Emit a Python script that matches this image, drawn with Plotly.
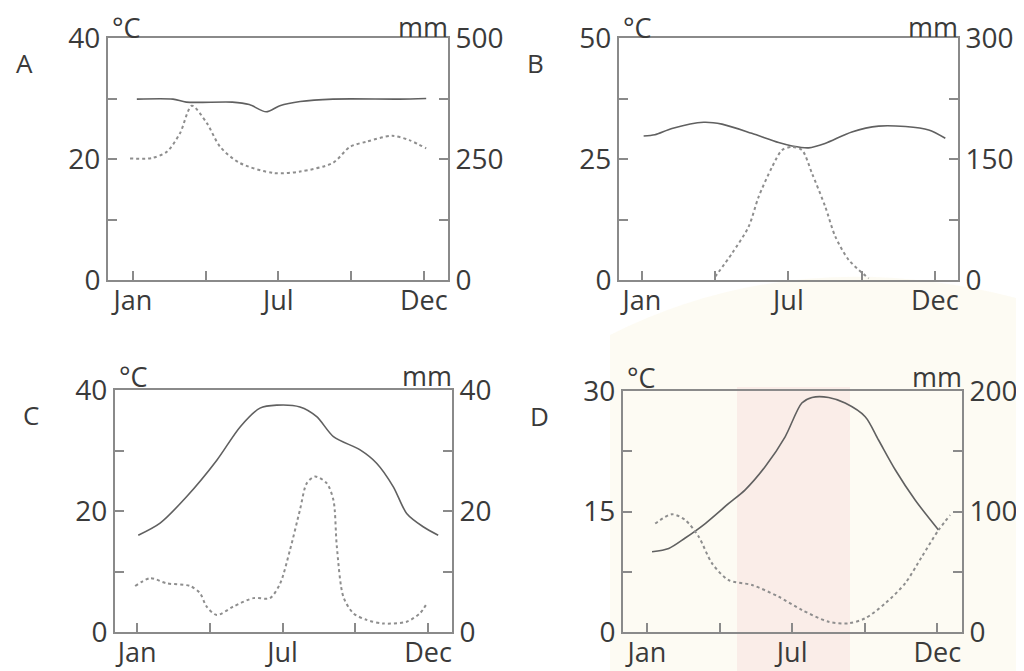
import plotly.graph_objects as go

# month positions: 0 = Jan, 6 = Jul, 12 = Dec (axis ticks every quarter)
tick_vals = [0, 3, 6, 9, 12]
tick_text = ["Jan", "", "Jul", "", "Dec"]

# A
a_temp_x = [0.16, 1.65, 2.2, 4.1, 4.8, 5.5, 6.06, 6.9, 8.25, 11.0, 12.1]
a_temp_y = [29.9, 29.9, 29.4, 29.4, 29.0, 27.8, 28.8, 29.5, 29.9, 29.9, 30.0]
a_rain_x = [-0.12, 0.78, 1.4, 1.94, 2.43, 3.05, 3.6, 4.4, 5.8, 6.9, 8.25, 8.95, 9.65, 10.7, 11.4, 12.1]
a_rain_y = [251, 252, 265, 303, 360, 324, 275, 242, 221, 224, 242, 275, 286, 298, 289, 272]

# B
b_temp_x = [0.07, 0.53, 1.23, 2.53, 3.28, 4.5, 5.6, 6.15, 6.83, 7.5, 8.6, 9.7, 10.8, 11.75, 12.43]
b_temp_y = [29.75, 30.0, 31.3, 32.6, 32.2, 30.3, 28.4, 27.7, 27.3, 28.2, 30.6, 31.8, 31.7, 31.0, 29.3]
b_rain_x = [3.0, 3.69, 4.37, 4.78, 5.33, 5.74, 6.15, 6.56, 6.97, 7.51, 7.92, 8.47, 9.29]
b_rain_y = [4, 33, 66, 103, 140, 161, 165, 161, 132, 91, 54, 25, 2]

# C
c_temp_x = [0.05, 0.95, 2.05, 3.29, 4.25, 5.07, 5.76, 6.72, 7.41, 8.1, 9.2, 9.88, 10.57, 11.12, 11.8, 12.42]
c_temp_y = [16.0, 18.0, 22.4, 28.4, 33.9, 37.0, 37.5, 37.2, 35.6, 32.3, 30.1, 27.9, 24.0, 19.6, 17.4, 16.0]
c_rain_x = [-0.08, 0.54, 1.22, 2.19, 2.6, 2.87, 3.29, 3.97, 4.8, 5.48, 5.9, 6.31, 6.72, 7.0, 7.34,
            7.82, 8.1, 8.24, 8.51, 8.92, 9.47, 10.16, 11.12, 11.67, 11.95]
c_rain_y = [7.6, 8.9, 8.05, 7.6, 6.4, 4.2, 2.8, 4.2, 5.6, 5.6, 8.0, 13.6, 20.2, 24.6, 25.7,
            24.6, 21.8, 14.1, 5.8, 3.1, 2.0, 1.4, 1.7, 3.1, 4.7]

# D
d_temp_x = [0.21, 0.9, 1.58, 2.41, 3.38, 4.06, 4.89, 5.71, 6.4, 6.82, 7.51, 8.19, 9.02, 9.57, 10.26, 11.09, 12.05]
d_temp_y = [10.0, 10.4, 11.7, 13.5, 16.0, 17.7, 20.6, 24.3, 28.5, 29.2, 29.2, 28.5, 26.8, 23.9, 20.2, 16.4, 12.7]
d_rain_x = [0.34, 1.03, 1.58, 2.14, 2.69, 3.38, 4.34, 5.44, 6.4, 7.51, 8.33, 9.02, 9.85, 10.67, 11.36, 12.05, 12.53]
d_rain_y = [90, 97.7, 93, 79, 57, 43, 39, 29.3, 18.3, 8.5, 7.2, 11.4, 23.8, 40.4, 62.5, 84.6, 97]

# page body has an 8px margin; the figure starts at (8, 8) and runs to the window edge
OFF = 8
W, H = 1024 - OFF, 671 - OFF


def px(x):
    return (x - OFF) / W


def py(y):
    return 1 - (y - OFF) / H


panels = [
    # letter, box in page px (left, right, top, bottom), x range, temp max, rain max, data
    ("A", (108, 448, 38, 280), (-1.03, 13.0), 40, 500, a_temp_x, a_temp_y, a_rain_x, a_rain_y),
    ("B", (619, 958, 38, 280), (-0.94, 12.95), 50, 300, b_temp_x, b_temp_y, b_rain_x, b_rain_y),
    ("C", (115, 452, 390, 632), (-0.91, 12.99), 40, 40, c_temp_x, c_temp_y, c_rain_x, c_rain_y),
    ("D", (623, 962, 391, 632), (-0.99, 13.02), 30, 200, d_temp_x, d_temp_y, d_rain_x, d_rain_y),
]

font = dict(family="Open Sans", size=28, color="#3a3a3a")
xfont = dict(family="Open Sans", size=27, color="#3a3a3a")
unit_font = dict(family="Open Sans", size=27, color="#3a3a3a")
letter_font = dict(family="Open Sans", size=26, color="#3a3a3a")
axis_col = "#8a8a8a"
solid_col = "#606060"
dot_col = "#8e8e8e"

fig = go.Figure()
layout = {}
annotations = []

for i, (letter, box, xr, tmax, rmax, tx, ty, rx, ry) in enumerate(panels):
    left, right, top, bottom = box
    xn = "xaxis" if i == 0 else f"xaxis{i + 1}"
    xid = "x" if i == 0 else f"x{i + 1}"
    yl = 2 * i + 1
    yr = 2 * i + 2
    yln = "yaxis" if yl == 1 else f"yaxis{yl}"
    ylid = "y" if yl == 1 else f"y{yl}"
    yrn = f"yaxis{yr}"
    yrid = f"y{yr}"

    common = dict(ticks="inside", ticklen=9, tickcolor=axis_col, tickwidth=1.5,
                  showline=True, linecolor=axis_col, linewidth=2, automargin=False,
                  showgrid=False, zeroline=False)
    layout[xn] = dict(domain=[px(left), px(right)], range=list(xr), anchor=ylid,
                      tickvals=tick_vals, ticktext=tick_text, mirror=True,
                      tickfont=xfont, ticklabelstandoff=-4, **common)
    layout[yln] = dict(domain=[py(bottom), py(top)], range=[0, tmax], anchor=xid,
                       tickvals=[0, tmax / 4, tmax / 2, 3 * tmax / 4, tmax],
                       ticktext=["0", "", f"{tmax / 2:g}", "", f"{tmax:g}"],
                       tickfont=font, ticklabelstandoff=0, **common)
    layout[yrn] = dict(range=[0, rmax], overlaying=ylid, anchor=xid, side="right",
                       tickvals=[0, rmax / 4, rmax / 2, 3 * rmax / 4, rmax],
                       ticktext=["0", "", f"{rmax / 2:g}", "", f"{rmax:g}"],
                       tickfont=font, ticklabelstandoff=0, **common)

    fig.add_trace(go.Scatter(x=tx, y=ty, xaxis=xid, yaxis=ylid, mode="lines",
                             line=dict(color=solid_col, width=1.6, shape="spline", smoothing=0.8),
                             showlegend=False, hoverinfo="skip"))
    fig.add_trace(go.Scatter(x=rx, y=ry, xaxis=xid, yaxis=yrid, mode="lines",
                             line=dict(color=dot_col, width=2, dash="dot", shape="spline", smoothing=0.8),
                             showlegend=False, hoverinfo="skip"))

    # unit labels sit just above the box; keep their text box inside the figure
    unit_top = max(top - 33, OFF)
    annotations.append(dict(text=letter, x=px(left - 84), y=py(top + 25), xref="paper", yref="paper",
                            showarrow=False, font=letter_font, xanchor="center", yanchor="middle"))
    annotations.append(dict(text="°C", x=px(left + 3), y=py(unit_top), xref="paper", yref="paper",
                            showarrow=False, font=unit_font, xanchor="left", yanchor="top", borderpad=0))
    annotations.append(dict(text="mm", x=px(right + 1), y=py(unit_top - 1), xref="paper", yref="paper",
                            showarrow=False, font=unit_font, xanchor="right", yanchor="top", borderpad=0))

# faint watermark behind the lower right
shapes = [
    dict(type="path", xref="paper", yref="paper", layer="below",
         path=f"M {px(610)} {py(335)} Q {px(800)} {py(240)} {px(1024)} {py(300)} "
              f"L {px(1024)} {py(671)} L {px(610)} {py(671)} Z",
         fillcolor="rgba(250,243,215,0.3)", line=dict(width=0)),
    dict(type="rect", xref="paper", yref="paper", layer="below",
         x0=px(737), x1=px(850), y0=py(671), y1=py(387),
         fillcolor="rgba(245,200,205,0.28)", line=dict(width=0)),
]

fig.update_layout(width=W, height=H, margin=dict(l=0, r=0, t=0, b=0),
                  paper_bgcolor="white", plot_bgcolor="rgba(0,0,0,0)",
                  annotations=annotations, shapes=shapes, **layout)

fig.write_html("out.html")
